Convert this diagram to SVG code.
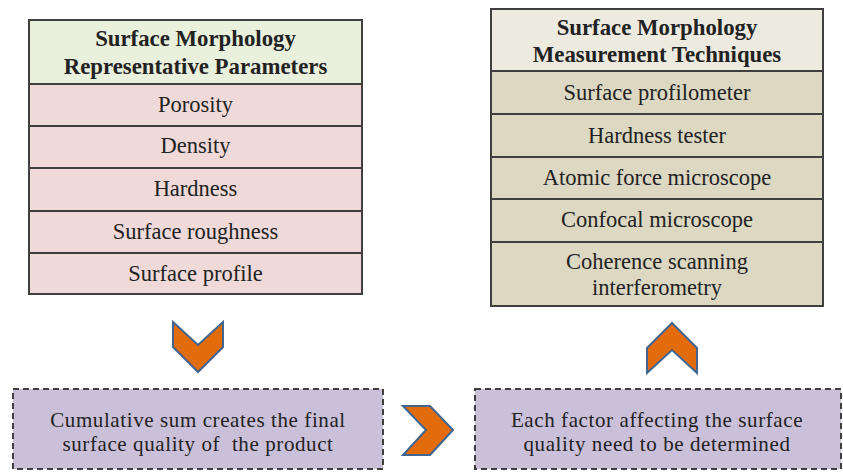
<svg xmlns="http://www.w3.org/2000/svg" width="843" height="475" viewBox="0 0 843 475">
  <style>
    .cell { stroke: #3f3f3f; stroke-width: 2; }
    .hdrL { fill: #e9f0dc; }
    .rowL { fill: #f0dad9; }
    .hdrR { fill: #edebe0; }
    .rowR { fill: #dcd8c2; }
    .note { fill: #cbc0d9; stroke: #3f3f3f; stroke-width: 2; stroke-dasharray: 6 4; }
    .chev { fill: #e36c0a; stroke: #41658f; stroke-width: 2; stroke-linejoin: miter; }
    text { font-family: "Liberation Serif", "Times New Roman", serif; font-size: 22.5px; font-weight: 400; fill: #222222; text-anchor: middle; }
    text.b { font-weight: 700; font-size: 22.8px; }
    text.n { font-size: 21px; letter-spacing: 0.6px; }
  </style>

  <!-- Parameters table -->
  <g id="params">
    <rect class="cell hdrL" x="29" y="20" width="333" height="64"/>
    <text class="b" x="195.5" y="46">Surface Morphology</text>
    <text class="b" x="195.5" y="74">Representative Parameters</text>
    <rect class="cell rowL" x="29" y="84" width="333" height="42"/>
    <text x="195.5" y="112">Porosity</text>
    <rect class="cell rowL" x="29" y="126" width="333" height="42"/>
    <text x="195.5" y="153">Density</text>
    <rect class="cell rowL" x="29" y="168" width="333" height="43"/>
    <text x="195.5" y="196">Hardness</text>
    <rect class="cell rowL" x="29" y="211" width="333" height="42"/>
    <text x="195.5" y="239">Surface roughness</text>
    <rect class="cell rowL" x="29" y="253" width="333" height="41"/>
    <text x="195.5" y="281">Surface profile</text>
  </g>

  <!-- Techniques table -->
  <g id="techniques">
    <rect class="cell hdrR" x="491" y="9" width="332" height="62"/>
    <text class="b" x="657" y="35">Surface Morphology</text>
    <text class="b" x="657" y="62">Measurement Techniques</text>
    <rect class="cell rowR" x="491" y="71" width="332" height="43"/>
    <text x="657" y="100">Surface profilometer</text>
    <rect class="cell rowR" x="491" y="114" width="332" height="43"/>
    <text x="657" y="143">Hardness tester</text>
    <rect class="cell rowR" x="491" y="157" width="332" height="42"/>
    <text x="657" y="185">Atomic force microscope</text>
    <rect class="cell rowR" x="491" y="199" width="332" height="43"/>
    <text x="657" y="227">Confocal microscope</text>
    <rect class="cell rowR" x="491" y="242" width="332" height="64"/>
    <text x="657" y="269">Coherence scanning</text>
    <text x="657" y="295">interferometry</text>
  </g>

  <!-- Summary notes -->
  <g id="cumulative">
    <rect class="note" x="13" y="389" width="370" height="80"/>
    <text class="n" x="198" y="427">Cumulative sum creates the final</text>
    <text class="n" x="198" y="451" xml:space="preserve">surface quality of  the product</text>
  </g>
  <g id="factors">
    <rect class="note" x="475" y="389" width="366" height="80"/>
    <text class="n" x="657" y="427">Each factor affecting the surface</text>
    <text class="n" x="657" y="451">quality need to be determined</text>
  </g>

  <!-- Chevron connectors -->
  <g id="connectors">
    <polygon class="chev" points="173,322 198,345 223,322 223,347 198,372 173,347"/>
    <polygon class="chev" points="403,406 430,406 453,430 430,455 403,455 426,430"/>
    <polygon class="chev" points="647,373 647,348 672,323 697,348 697,373 672,350"/>
  </g>
</svg>
